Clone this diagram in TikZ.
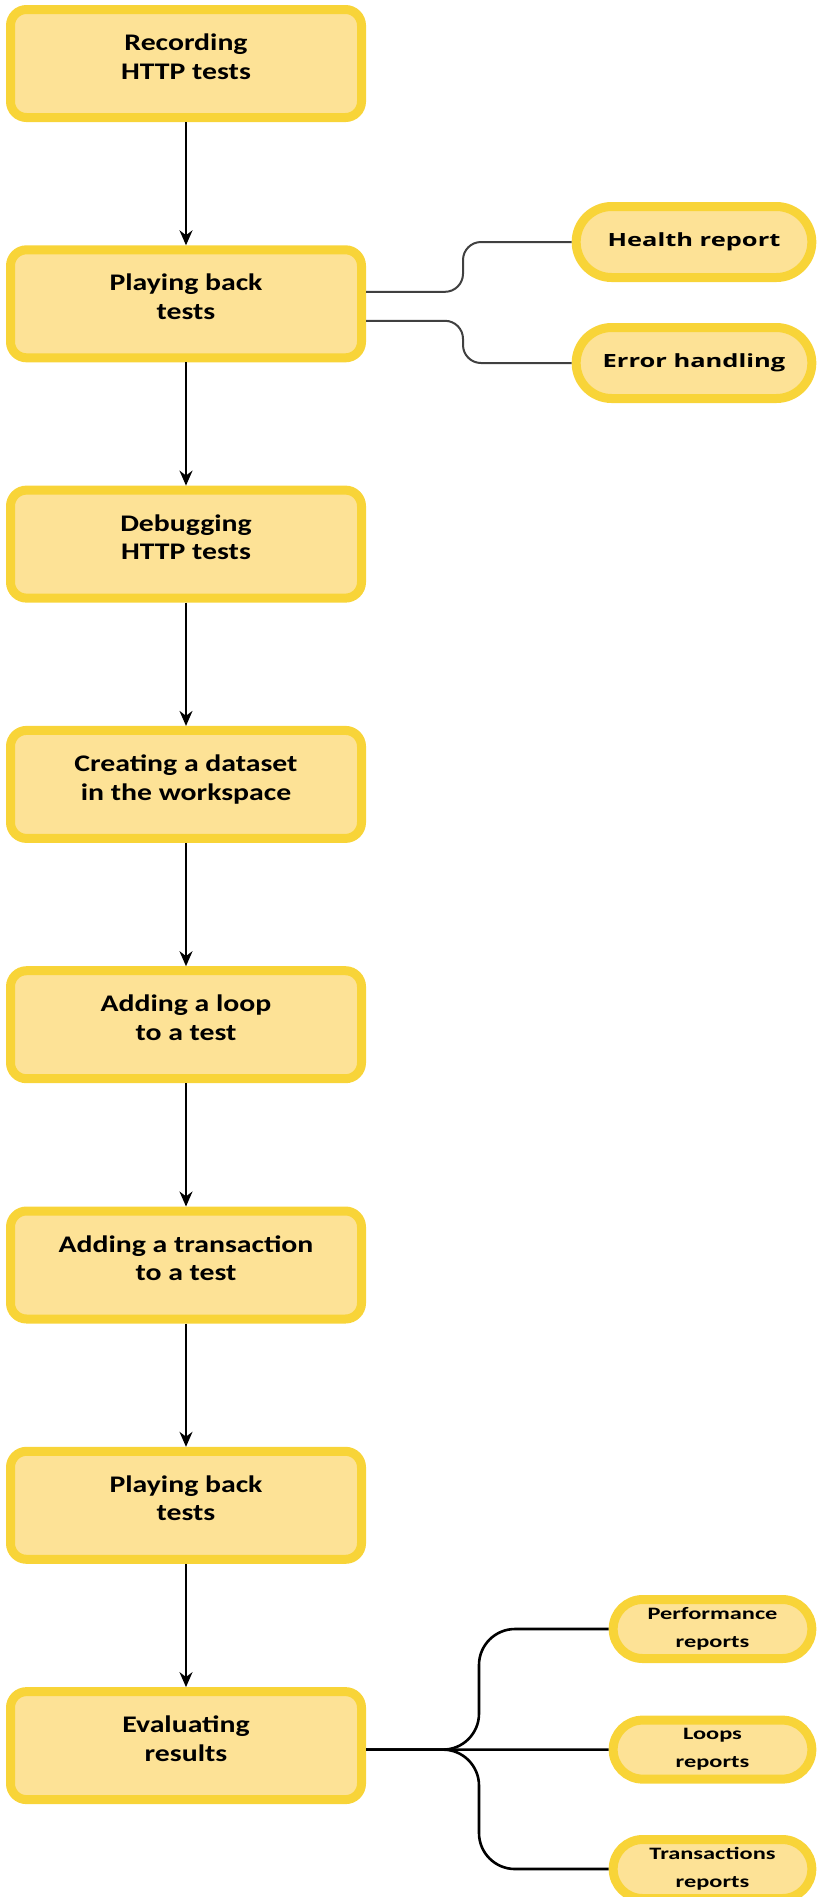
\documentclass[tikz,border=0pt]{standalone}
\usepackage{fontspec}
\setmainfont{Carlito}[FakeStretch=1.25]
\newfontfamily\reportfont{Carlito}[FakeStretch=1.4]
\newfontfamily\tagfont{Open Sans}[FakeStretch=1.4]
\usetikzlibrary{arrows.meta,positioning,shapes.misc}
\definecolor{boxfill}{RGB}{253,226,150}
\definecolor{boxline}{RGB}{248,212,56}
\tikzset{
  stepbox/.style={rectangle,rounded corners=8pt,draw=boxline,fill=boxfill,line width=4.5pt,
    minimum width=175.5pt,minimum height=54pt,align=center,
    font=\fontsize{11.9pt}{14.25pt}\selectfont\bfseries,
    execute at end node={\rule[-7pt]{0pt}{0pt}}},
  tagbox/.style={rounded rectangle,draw=boxline,fill=boxfill,line width=4.5pt,
    minimum width=124.5pt,minimum height=35.5pt,align=center,
    font=\tagfont\fontsize{9.1pt}{12pt}\selectfont\bfseries},
  reportbox/.style={rounded rectangle,draw=boxline,fill=boxfill,line width=4.5pt,
    minimum width=106pt,minimum height=29.5pt,align=center,inner ysep=1pt,
    font=\reportfont\fontsize{8.7pt}{14pt}\selectfont\bfseries},
  link/.style={line width=1pt,black!75,rounded corners=9pt},
  fork/.style={line width=1.3pt,black,rounded corners=18pt}
}
\begin{document}
\begin{tikzpicture}[x=0.5pt,y=-0.5pt,>={Stealth[length=7.5pt,width=6.5pt]}]
  \useasboundingbox (0,0) rectangle (825,1897);
  % Schritte
  \node[stepbox] (rec) at (186,63.5) {Recording\\HTTP tests};
  \node[stepbox,below=61.65pt of rec] (play) {Playing back\\tests};
  \node[stepbox,below=61.65pt of play] (debug) {Debugging\\HTTP tests};
  \node[stepbox,below=61.65pt of debug] (dataset) {Creating a dataset\\in the workspace};
  \node[stepbox,below=61.65pt of dataset] (loop) {Adding a loop\\to a test};
  \node[stepbox,below=61.65pt of loop] (addtrans) {Adding a transaction\\to a test};
  \node[stepbox,below=61.65pt of addtrans] (replay) {Playing back\\tests};
  \node[stepbox,below=61.65pt of replay] (eval) {Evaluating\\results};
  \foreach\a/\b in {rec/play,play/debug,debug/dataset,dataset/loop,loop/addtrans,addtrans/replay,replay/eval}
    \draw[->,line width=1pt] (\a) -- (\b);
  % Nebenzweige
  \node[tagbox] (health) at (694,242) {Health report};
  \node[tagbox] (error) at (694,363) {Error handling};
  \node[reportbox] (perf) at (712.5,1629) {Performance\\reports};
  \node[reportbox] (loops) at (712.5,1749.6) {Loops\\reports};
  \node[reportbox] (transrep) at (712.5,1869) {Transactions\\reports};
  \coordinate (forkA) at (463,0);
  \coordinate (forkB) at (479,0);
  \draw[link] ([yshift=6pt]play.east) -| (forkA |- health.west) -- (health.west);
  \draw[link] ([yshift=-8.5pt]play.east) -| (forkA |- error.west) -- (error.west);
  \draw[fork] ([yshift=-2pt]eval.east) -| (forkB |- perf.west) -- (perf.west);
  \draw[fork] ([yshift=-2pt]eval.east) -- (loops.west);
  \draw[fork] ([yshift=-2pt]eval.east) -| (forkB |- transrep.west) -- (transrep.west);
\end{tikzpicture}
\end{document}
